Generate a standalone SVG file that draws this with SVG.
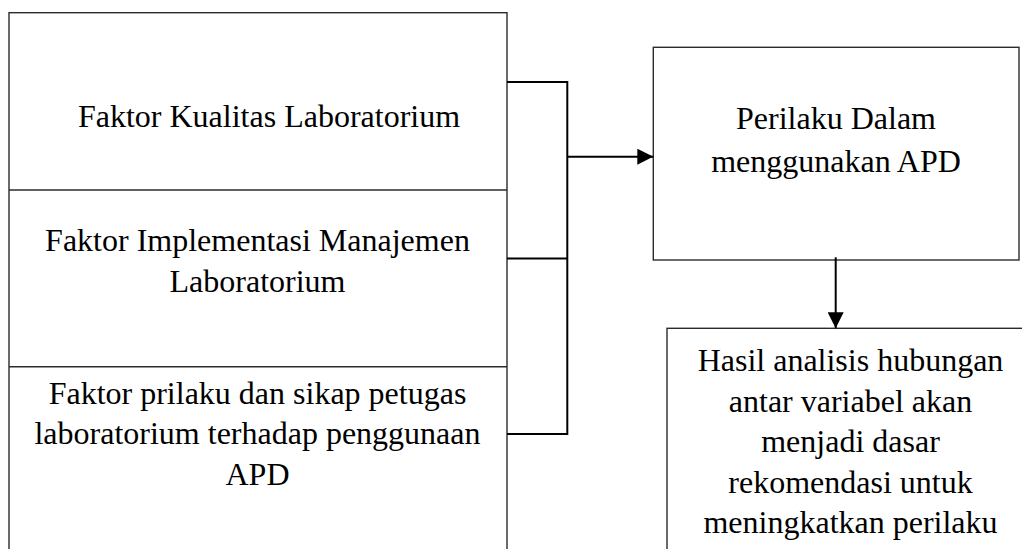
<svg xmlns="http://www.w3.org/2000/svg" width="1022" height="549" viewBox="0 0 1022 549">
  <style>
    .box { fill: #ffffff; stroke: #2b2b2b; stroke-width: 1.4; }
    .div { fill: none; stroke: #2b2b2b; stroke-width: 1.4; }
    .con { fill: none; stroke: #000000; stroke-width: 2; }
    .lbl { font-family: "Liberation Serif", "Times New Roman", serif; font-size: 32px; fill: #000000; text-anchor: middle; }
  </style>
  <defs>
    <marker id="arrowR" markerUnits="userSpaceOnUse" markerWidth="16" markerHeight="16" refX="16" refY="8" orient="auto">
      <path d="M0,0 L16,8 L0,16 Z" fill="#000000"/>
    </marker>
  </defs>
  <rect width="1022" height="549" fill="#ffffff"/>

  <g id="left-panel">
    <rect class="box" x="9" y="12.7" width="498" height="560"/>
  </g>
  <g id="node-kualitas">
    <text class="lbl" x="269" y="127.3">Faktor Kualitas Laboratorium</text>
  </g>
  <g id="node-implementasi">
    <line class="div" x1="9" y1="190" x2="507" y2="190"/>
    <text class="lbl" x="257.5" y="250.7">Faktor Implementasi Manajemen</text>
    <text class="lbl" x="257.5" y="291.5">Laboratorium</text>
  </g>
  <g id="node-prilaku">
    <line class="div" x1="9" y1="366.7" x2="507" y2="366.7"/>
    <text class="lbl" x="257.5" y="404.3">Faktor prilaku dan sikap petugas</text>
    <text class="lbl" x="257.5" y="444.3">laboratorium terhadap penggunaan</text>
    <text class="lbl" x="257.5" y="485">APD</text>
  </g>

  <g id="node-perilaku">
    <rect class="box" x="653.3" y="47.3" width="365.7" height="212.7"/>
    <text class="lbl" x="836" y="129.3">Perilaku Dalam</text>
    <text class="lbl" x="836" y="171.7">menggunakan APD</text>
  </g>

  <g id="node-hasil">
    <rect class="box" x="667" y="328.3" width="364" height="260"/>
    <text class="lbl" x="850.5" y="370.7">Hasil analisis hubungan</text>
    <text class="lbl" x="850.5" y="411.5">antar variabel akan</text>
    <text class="lbl" x="850.5" y="452.3">menjadi dasar</text>
    <text class="lbl" x="850.5" y="493">rekomendasi untuk</text>
    <text class="lbl" x="850.5" y="533.3">meningkatkan perilaku</text>
  </g>

  <g id="connectors">
    <path class="con" d="M507,82 H567.3 V434 H507"/>
    <line class="con" x1="507" y1="258.5" x2="567.3" y2="258.5"/>
    <line class="con" x1="567.3" y1="156.7" x2="653.3" y2="156.7" marker-end="url(#arrowR)"/>
    <line class="con" x1="835.7" y1="257.3" x2="835.7" y2="328.3" marker-end="url(#arrowR)"/>
  </g>
</svg>
